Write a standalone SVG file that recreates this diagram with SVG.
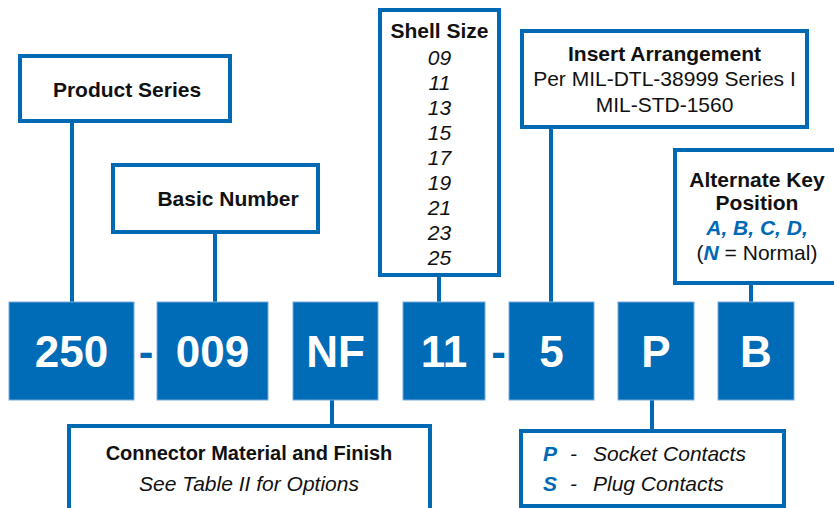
<svg xmlns="http://www.w3.org/2000/svg" width="834" height="508" viewBox="0 0 834 508">
<style>
.box{fill:#fff;stroke:#0069b4;stroke-width:4}
.code{fill:#006bb6;stroke:#79abd9;stroke-width:1}
.code-t{font-family:"Liberation Sans",Arial,sans-serif;font-weight:bold;font-size:44px;fill:#fff;text-anchor:middle}
.dash{font-family:"Liberation Sans",Arial,sans-serif;font-weight:bold;font-size:44px;fill:#0069b4;text-anchor:middle}
.h{font-family:"Liberation Sans",Arial,sans-serif;font-weight:bold;font-size:21px;fill:#111;text-anchor:middle}
.r{font-family:"Liberation Sans",Arial,sans-serif;font-size:21px;fill:#111;text-anchor:middle}
.i{font-family:"Liberation Sans",Arial,sans-serif;font-style:italic;font-size:21px;fill:#111}
.b{font-weight:bold;font-style:italic;fill:#0069b4}
.conn{stroke:#0069b4;stroke-width:4;fill:none}
</style>
<g id="connectors">
<line class="conn" x1="72" y1="121" x2="72" y2="302"/>
<line class="conn" x1="215" y1="232" x2="215" y2="302"/>
<line class="conn" x1="439" y1="275" x2="439" y2="302"/>
<line class="conn" x1="551" y1="127" x2="551" y2="302"/>
<line class="conn" x1="751" y1="283" x2="751" y2="302"/>
<line class="conn" x1="332" y1="400" x2="332" y2="426"/>
<line class="conn" x1="652" y1="400" x2="652" y2="431"/>
</g>
<g id="product-series">
<rect class="box" x="20" y="56" width="210" height="65"/>
<text class="h" x="127" y="97">Product Series</text>
</g>
<g id="basic-number">
<rect class="box" x="113" y="165" width="205" height="67"/>
<text class="h" x="228" y="206">Basic Number</text>
</g>
<g id="shell-size">
<rect class="box" x="380" y="10" width="119" height="265"/>
<text class="h" x="439.5" y="38">Shell Size</text>
<g class="i" text-anchor="middle">
<text x="439.5" y="65">09</text>
<text x="439.5" y="90">11</text>
<text x="439.5" y="115">13</text>
<text x="439.5" y="140">15</text>
<text x="439.5" y="165">17</text>
<text x="439.5" y="190">19</text>
<text x="439.5" y="215">21</text>
<text x="439.5" y="240">23</text>
<text x="439.5" y="265">25</text>
</g>
</g>
<g id="insert-arrangement">
<rect class="box" x="522" y="31" width="285" height="96"/>
<text class="h" x="664.5" y="61">Insert Arrangement</text>
<text class="r" x="664.5" y="86">Per MIL-DTL-38999 Series I</text>
<text class="r" x="664.5" y="112">MIL-STD-1560</text>
</g>
<g id="alternate-key">
<rect class="box" x="675" y="150" width="200" height="133"/>
<text class="h" x="757" y="187">Alternate Key</text>
<text class="h" x="757" y="210">Position</text>
<text class="h" x="757" y="235" style="font-style:italic;fill:#0069b4">A, B, C, D,</text>
<text class="r" x="757" y="260">(<tspan class="b">N</tspan> = Normal)</text>
</g>
<g id="code-250">
<rect class="code" x="9" y="302" width="125" height="98"/>
<text class="code-t" x="71.5" y="367">250</text>
</g>
<text class="dash" x="146" y="367">-</text>
<g id="code-009">
<rect class="code" x="157" y="302" width="111" height="98"/>
<text class="code-t" x="212.5" y="367">009</text>
</g>
<g id="code-nf">
<rect class="code" x="293" y="302" width="85" height="98"/>
<text class="code-t" x="335.5" y="367">NF</text>
</g>
<g id="code-11">
<rect class="code" x="403" y="302" width="82" height="98"/>
<text class="code-t" x="444" y="367">11</text>
</g>
<text class="dash" x="498.5" y="367">-</text>
<g id="code-5">
<rect class="code" x="509" y="302" width="85" height="98"/>
<text class="code-t" x="551.5" y="367">5</text>
</g>
<g id="code-p">
<rect class="code" x="618" y="302" width="76" height="98"/>
<text class="code-t" x="656" y="367">P</text>
</g>
<g id="code-b">
<rect class="code" x="718" y="302" width="76" height="98"/>
<text class="code-t" x="756" y="367">B</text>
</g>
<g id="connector-material">
<rect class="box" x="69" y="426" width="361" height="100"/>
<text class="h" x="249" y="460" style="font-size:20px">Connector Material and Finish</text>
<text class="i" x="249" y="491" text-anchor="middle">See Table II for Options</text>
</g>
<g id="contacts">
<rect class="box" x="521" y="431" width="263" height="75"/>
<text class="i" x="543" y="461"><tspan class="b">P</tspan></text>
<text class="i" x="570" y="461">-</text>
<text class="i" x="593" y="461">Socket Contacts</text>
<text class="i" x="543" y="491"><tspan class="b">S</tspan></text>
<text class="i" x="570" y="491">-</text>
<text class="i" x="593" y="491">Plug Contacts</text>
</g>
</svg>
